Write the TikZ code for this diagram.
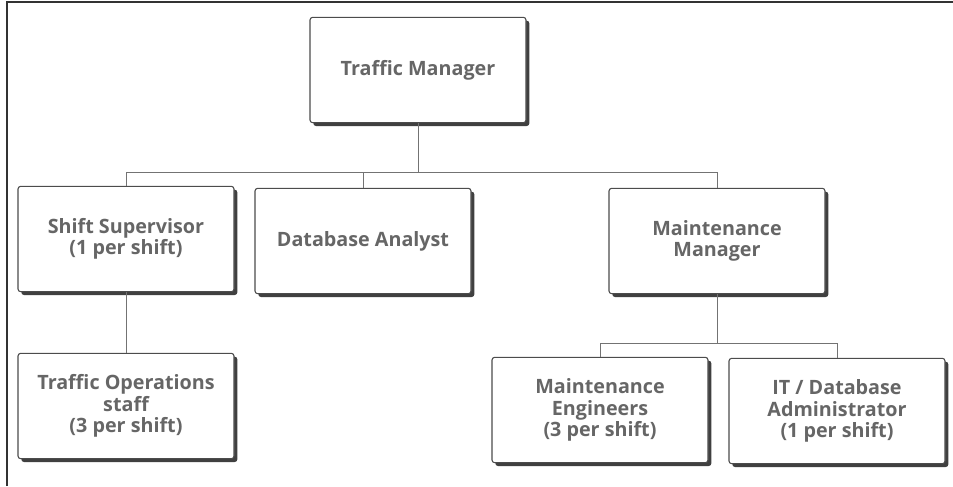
\documentclass[tikz,border=0pt]{standalone}
\usepackage{fontspec}
\setmainfont{Open Sans}
\usetikzlibrary{shadows}

\tikzset{
	post/.style={draw=black!70, line width=0.8pt, fill=white, rounded corners=2pt,
		minimum width=162pt, minimum height=79pt, align=center,
		text=black!60, font=\fontsize{14.8}{16}\selectfont\bfseries,
		drop shadow={shadow xshift=2.5pt, shadow yshift=-2.5pt, fill=black!75, opacity=1}},
	link/.style={draw=black!55, line width=0.6pt}
}

\begin{document}
\begin{tikzpicture}[x=0.75pt, y=-0.75pt]
			\useasboundingbox (0,0) rectangle (953,486);
			% frame
			\draw[black!80, line width=1.2pt] (7,486) -- (7,2) -- (953,2);
			% posts
			\node[post] (tm) at (418,70) {Traffic Manager};
			\node[post] (ss) at (126,239) {Shift Supervisor\\(1 per shift)};
			\node[post] (da) at (363,241) {Database Analyst};
			\node[post] (mm) at (717,241) {Maintenance\\Manager};
			\node[post] (to) at (126,406) {Traffic Operations\\staff\\(3 per shift)};
			\node[post] (me) at (600,410) {Maintenance\\Engineers\\(3 per shift)};
			\node[post] (it) at (837,411) {IT / Database\\Administrator\\(1 per shift)};
			% links
			\coordinate (busa) at (418,172);
			\coordinate (busb) at (717,343);
			\draw[link] (tm.south) -- (busa);
			\draw[link] (ss.north) |- (busa);
			\draw[link] (da.north) |- (busa);
			\draw[link] (mm.north) |- (busa);
			\draw[link] (ss.south) -- (to.north);
			\draw[link] (mm.south) -- (busb);
			\draw[link] (me.north) |- (busb);
			\draw[link] (it.north) |- (busb);
		\end{tikzpicture}
\end{document}
